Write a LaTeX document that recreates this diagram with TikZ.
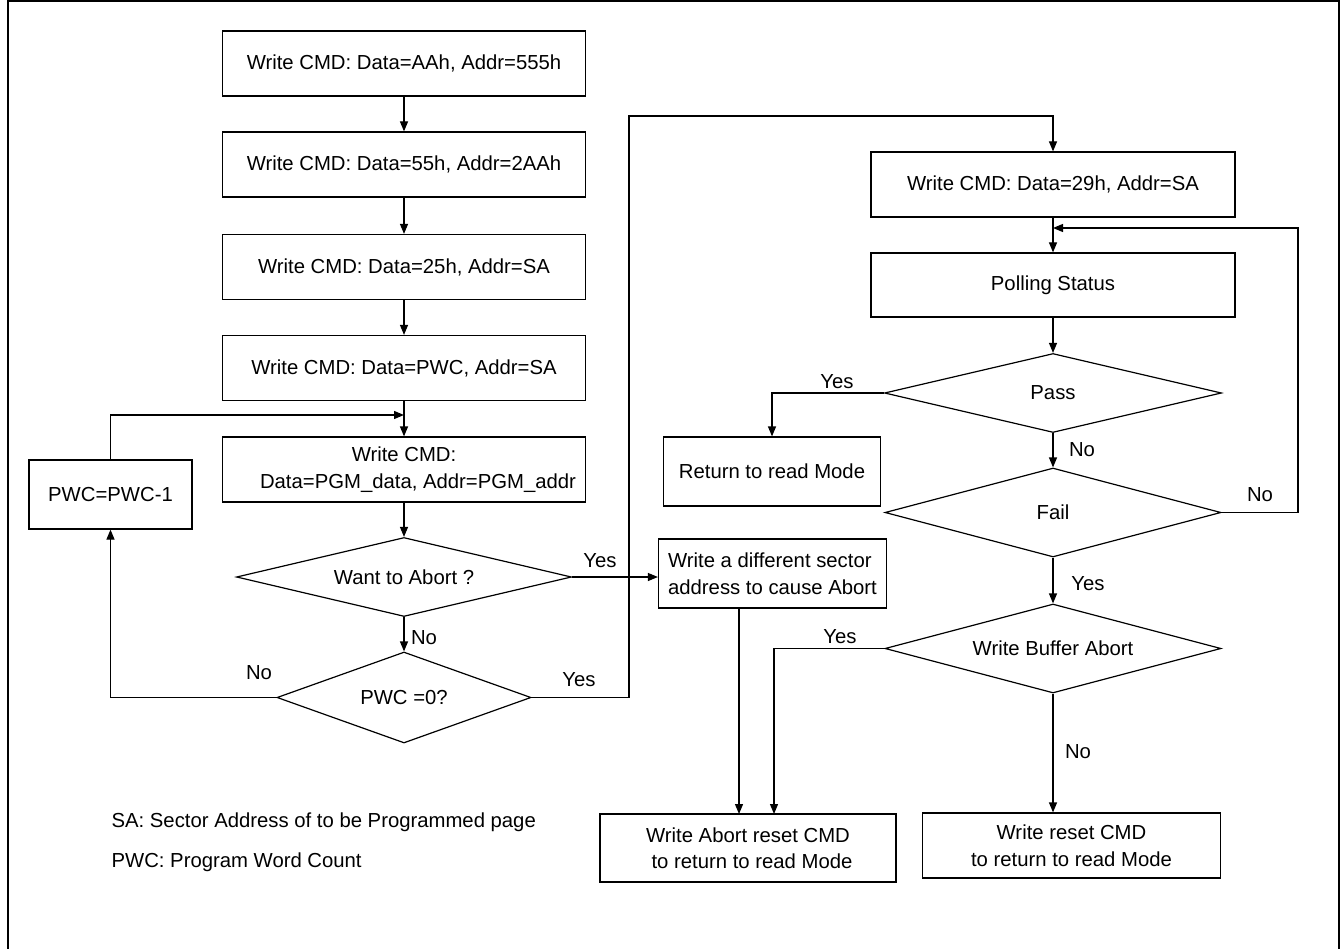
\documentclass[tikz,border=0pt]{standalone}
\usepackage{fontspec}
\setmainfont{Liberation Sans}
\usetikzlibrary{shapes.geometric,arrows.meta}

\begin{document}
\begin{tikzpicture}[x=1pt,y=-1pt,line width=1.2pt,
    every node/.style={font=\fontsize{20.3}{26.5}\selectfont,inner sep=0pt},
    cmdbox/.style={draw,rectangle,minimum width=363pt,minimum height=65pt,align=center},
    decision/.style={draw,diamond,aspect=3.5,inner sep=0pt},
    arr/.style={-{Triangle[length=10pt,width=8pt]}}]
      \useasboundingbox (0,0) rectangle (1341,949);
      \draw[line width=1.6pt] (8,949) -- (8,1) -- (1339,1) -- (1339,949);

      % left column
      \node[cmdbox] (b1) at (404,63.5) {Write CMD: Data=AAh, Addr=555h};
      \node[cmdbox] (b2) at (404,164.5) {Write CMD: Data=55h, Addr=2AAh};
      \node[cmdbox] (b3) at (404,267) {Write CMD: Data=25h, Addr=SA};
      \node[cmdbox] (b4) at (404,368) {Write CMD: Data=PWC, Addr=SA};
      \node[cmdbox] (b5) at (404,469.5) {Write CMD:\\\hspace*{28pt}Data=PGM\_data, Addr=PGM\_addr};
      \node[draw,minimum width=163pt,minimum height=69pt] (pwc) at (110.5,494.5) {PWC=PWC-1};
      \node[decision,minimum width=335pt,minimum height=79pt] (d1) at (404,577) {Want to Abort ?};
      \node[decision,minimum width=254pt,minimum height=91pt] (d2) at (404,697.5) {PWC =0?};

      % right column
      \node[cmdbox,minimum width=364pt] (b6) at (1053,184.5) {Write CMD: Data=29h, Addr=SA};
      \node[cmdbox,minimum width=364pt,minimum height=64pt] (b7) at (1053,285) {Polling Status};
      \node[decision,minimum width=337pt,minimum height=79pt] (d3) at (1053,393) {Pass};
      \node[decision,minimum width=336pt,minimum height=89pt] (d4) at (1053,512.5) {Fail};
      \node[decision,minimum width=336pt,minimum height=89pt] (d5) at (1053,648.5) {Write Buffer Abort};
      \node[draw,minimum width=217pt,minimum height=69pt] (ret) at (772,471.5) {Return to read Mode};
      \node[draw,minimum width=228pt,minimum height=69pt,align=left] (diff) at (772.5,573.5) {Write a different sector\\address to cause Abort};
      \node[draw,minimum width=296pt,minimum height=68pt,align=center] (abrt) at (748,848) {Write Abort reset CMD\\\hspace*{8pt}to return to read Mode};
      \node[draw,minimum width=298pt,minimum height=65pt,align=center] (rst) at (1071.5,845.5) {Write reset CMD\\to return to read Mode};

      \coordinate (j1) at (404,415);
      \coordinate (c1) at (629,116);
      \coordinate (j2) at (1053,228);
      \coordinate (c2) at (1298,228);
      \coordinate (a1) at (739,814);
      \coordinate (a2) at (774,814);

      \draw[arr] (b1) -- (b2);
      \draw[arr] (b2) -- (b3);
      \draw[arr] (b3) -- (b4);
      \draw[arr] (b4) -- (b5);
      \draw[arr] (pwc.north) |- (j1);
      \draw[arr] (b5) -- (d1);
      \draw[arr] (d1.east) -- (d1.east -| diff.west);
      \draw[arr] (d1) -- (d2);
      \draw[arr] (d2.west) -| (pwc.south);
      \draw[arr] (d2.east) -| (c1) -| (b6.north);
      \draw[arr] (b6) -- (b7);
      \draw[arr] (d4.east) -| (c2) -- (j2);
      \draw[arr] (b7) -- (d3);
      \draw[arr] (d3.west) -| (ret.north);
      \draw[arr] (d3) -- (d4);
      \draw[arr] (d4) -- (d5);
      \draw[arr] (d5.west) -| (a2);
      \draw[arr] (diff.south -| a1) -- (a1);
      \draw[arr] (d5.south) -- (d5.south |- rst.north);

      % branch labels
      \node (y1) at (600,561) {Yes};
      \node (n1) at (424,638) {No};
      \node (n2) at (259,673) {No};
      \node (y2) at (579,680) {Yes};
      \node (y3) at (837,382) {Yes};
      \node (n3) at (1082,450) {No};
      \node (n4) at (1260,495) {No};
      \node (y4) at (1088,584) {Yes};
      \node (y5) at (840,637) {Yes};
      \node (n5) at (1078,752) {No};

      % notes
      \node[anchor=west] (sanote) at (111,822) {SA: Sector Address of to be Programmed page};
      \node[anchor=west] (pwcnote) at (111,862) {PWC: Program Word Count};
    \end{tikzpicture}
\end{document}
